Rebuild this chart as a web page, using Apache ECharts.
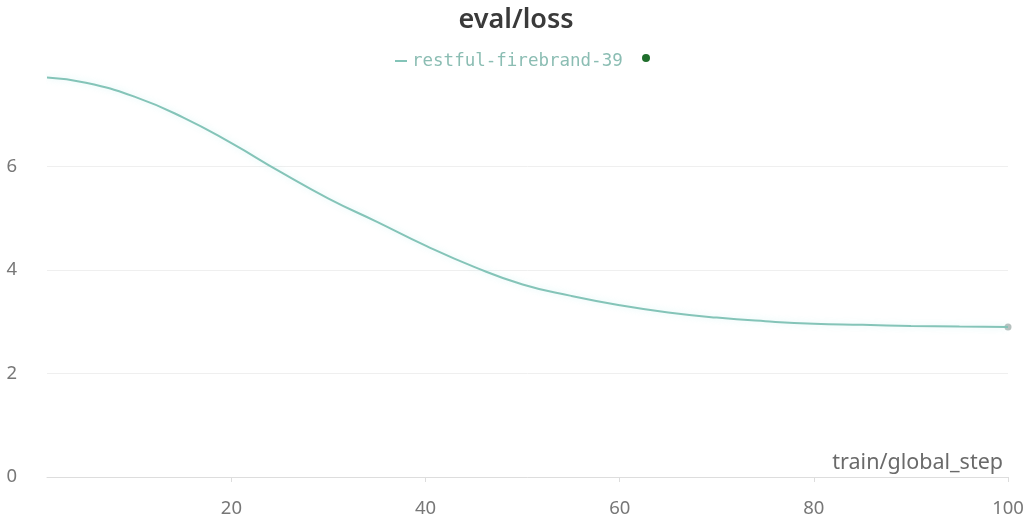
<!DOCTYPE html>
<html>
<head>
<meta charset="utf-8">
<script src="https://cdn.jsdelivr.net/npm/echarts@6/dist/echarts.min.js"></script>
<style>
  html, body { margin: 0; padding: 0; background: #fff; }
  #chart { width: 1032px; height: 527px; }
</style>
</head>
<body>
<div id="chart"></div>
<script>
// Evaluation loss by training step
const runName = 'restful-firebrand-39';
const steps = [1, 5, 10, 15, 20, 25, 30, 35, 40, 45, 50, 55, 60, 65, 70, 75, 80, 85, 90, 95, 100];
const evalLoss = [7.72, 7.62, 7.35, 6.95, 6.45, 5.90, 5.38, 4.93, 4.47, 4.06, 3.72, 3.50, 3.32, 3.18, 3.08, 3.01, 2.96, 2.94, 2.92, 2.91, 2.90];
const xTicks = [20, 40, 60, 80, 100];
const yTicks = [0, 2, 4, 6];

const points = steps.map((s, i) => [s, evalLoss[i]]);
const last = points[points.length - 1];

const chart = echarts.init(document.getElementById('chart'));
chart.setOption({
  backgroundColor: '#ffffff',
  animation: false,
  title: {
    text: 'eval/loss',
    left: 'center',
    top: 2,
    textStyle: { fontFamily: 'Noto Sans', fontWeight: 600, fontSize: 27, color: '#3a3a3a' }
  },
  legend: {
    data: [runName],
    left: 390,
    top: 47,
    icon: 'rect',
    itemWidth: 12,
    itemHeight: 2,
    itemGap: 10,
    textStyle: { fontFamily: 'DejaVu Sans Mono', fontSize: 17.5, color: '#8bbdb3' }
  },
  graphic: [{
    type: 'circle',
    shape: { cx: 646, cy: 58, r: 4 },
    style: { fill: '#1f6e2c' }
  }],
  grid: { left: 47, right: 24, top: 63, bottom: 50 },
  xAxis: {
    type: 'value',
    min: 1,
    max: 100,
    axisLine: { show: true, lineStyle: { color: '#dddddd', width: 1 } },
    axisTick: { show: true, customValues: xTicks, length: 5, lineStyle: { color: '#dddddd' } },
    axisLabel: {
      customValues: xTicks,
      fontFamily: 'Noto Sans', fontSize: 18.5, color: '#777777', margin: 22
    },
    splitLine: { show: false },
    name: 'train/global_step',
    nameLocation: 'end',
    nameGap: 0,
    nameTextStyle: {
      fontFamily: 'Noto Sans', fontSize: 21.5, color: '#6a6a6a',
      align: 'right', verticalAlign: 'bottom', padding: [0, 5, 3, 0]
    }
  },
  yAxis: {
    type: 'value',
    min: 0,
    max: 8,
    interval: 2,
    axisLine: { show: false },
    axisTick: { show: false },
    axisLabel: {
      showMaxLabel: false,
      formatter: v => (yTicks.indexOf(v) >= 0 ? String(v) : ''),
      fontFamily: 'Noto Sans', fontSize: 18.5, color: '#777777', margin: 30,
      padding: [6, 0, 0, 0]
    },
    splitLine: { show: true, showMaxLine: false, lineStyle: { color: '#efefef', width: 1 } }
  },
  series: [
    {
      name: runName,
      type: 'line',
      data: points,
      smooth: true,
      showSymbol: false,
      color: '#84c4b8',
      lineStyle: { width: 2, color: '#84c4b8', shadowBlur: 6, shadowColor: 'rgba(170,235,235,0.45)' }
    },
    {
      name: 'end',
      type: 'scatter',
      data: [last],
      symbolSize: 7,
      itemStyle: { color: '#a4b0ae' },
      silent: true
    }
  ]
});
</script>
</body>
</html>
